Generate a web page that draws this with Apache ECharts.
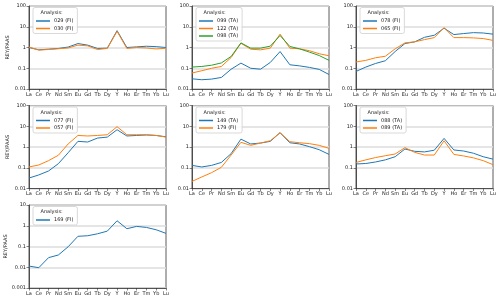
<!DOCTYPE html>
<html><head><meta charset="utf-8">
<script src="https://cdn.jsdelivr.net/npm/echarts@6/dist/echarts.min.js"></script>
<style>html,body{margin:0;padding:0;background:#fff}#c{width:500px;height:301px}</style>
</head><body><div id="c"></div>
<script>
const categories = ['La','Ce','Pr','Nd','Sm','Eu','Gd','Tb','Dy','Y','Ho','Er','Tm','Yb','Lu'];
const yTicksA = [0.01, 0.1, 1, 10, 100];
const yTicksB = [0.001, 0.01, 0.1, 1, 10];
const legendTitle = 'Analysis:';
const yName = 'REY/PAAS';

const s029 = [1.0, 0.77, 0.83, 0.9, 1.05, 1.55, 1.3, 0.9, 0.93, 6.5, 1.0, 1.07, 1.15, 1.1, 1.0];
const s030 = [1.05, 0.75, 0.8, 0.87, 0.95, 1.3, 1.2, 0.8, 0.9, 6.0, 0.9, 1.0, 0.95, 0.85, 0.92];
const s099 = [0.031, 0.028, 0.030, 0.036, 0.09, 0.177, 0.1, 0.09, 0.19, 0.64, 0.147, 0.13, 0.11, 0.088, 0.05];
const s122 = [0.059, 0.076, 0.1, 0.122, 0.33, 1.6, 0.83, 0.77, 0.93, 4.4, 0.93, 0.86, 0.7, 0.5, 0.4];
const s098 = [0.114, 0.122, 0.14, 0.18, 0.37, 1.67, 0.93, 0.93, 1.16, 3.8, 1.12, 0.86, 0.6, 0.41, 0.24];
const s078 = [0.07, 0.114, 0.17, 0.23, 0.64, 1.55, 1.87, 3.1, 3.9, 8.5, 4.2, 4.7, 5.2, 5.0, 4.4];
const s065 = [0.2, 0.24, 0.32, 0.38, 0.86, 1.67, 1.87, 2.4, 3.0, 9.1, 3.0, 3.0, 2.9, 2.7, 2.2];
const s077 = [0.032, 0.045, 0.07, 0.157, 0.53, 1.87, 1.74, 2.7, 3.0, 6.8, 3.4, 3.6, 3.8, 3.6, 3.1];
const s057 = [0.109, 0.136, 0.22, 0.4, 1.4, 3.6, 3.4, 3.6, 3.9, 9.5, 3.9, 3.9, 3.9, 3.6, 3.0];
const s149 = [0.13, 0.109, 0.13, 0.18, 0.48, 2.4, 1.4, 1.55, 1.87, 4.9, 1.6, 1.4, 1.04, 0.74, 0.44];
const s179 = [0.022, 0.036, 0.058, 0.105, 0.41, 1.68, 1.2, 1.55, 2.0, 4.9, 1.8, 1.6, 1.45, 1.2, 0.86];
const s088 = [0.152, 0.16, 0.19, 0.24, 0.34, 0.8, 0.62, 0.58, 0.7, 2.6, 0.72, 0.64, 0.5, 0.34, 0.26];
const s089 = [0.18, 0.24, 0.31, 0.38, 0.46, 0.93, 0.55, 0.41, 0.41, 2.0, 0.44, 0.37, 0.3, 0.22, 0.14];
const s169 = [0.0114, 0.0095, 0.029, 0.039, 0.097, 0.31, 0.33, 0.41, 0.55, 1.74, 0.72, 0.93, 0.83, 0.64, 0.43];

const panels = [
  {ticks: yTicksA, series: [['029 (FI)', s029], ['030 (FI)', s030]]},
  {ticks: yTicksA, series: [['099 (TA)', s099], ['122 (TA)', s122], ['098 (TA)', s098]]},
  {ticks: yTicksA, series: [['078 (FI)', s078], ['065 (FI)', s065]]},
  {ticks: yTicksA, series: [['077 (FI)', s077], ['057 (FI)', s057]]},
  {ticks: yTicksA, series: [['149 (TA)', s149], ['179 (FI)', s179]]},
  {ticks: yTicksA, series: [['088 (TA)', s088], ['089 (TA)', s089]]},
  {ticks: yTicksB, series: [['169 (FI)', s169]]}
];

const colors = ['#1f77b4', '#ff7f0e', '#2ca02c'];
const lefts = [29, 192, 356], tops = [6, 105.5, 205];
const W = 137, H = 83;
const FS = 5.0;
const FONT = 'DejaVu Sans';

const grid = [], xAxis = [], yAxis = [], series = [], legend = [], title = [];
panels.forEach((p, i) => {
  const gl = lefts[i % 3], gt = tops[Math.floor(i / 3)];
  grid.push({left: gl, top: gt, width: W, height: H, show: true, borderColor: '#333', borderWidth: 0.8, backgroundColor: 'transparent'});
  xAxis.push({
    type: 'category', gridIndex: i, data: categories, boundaryGap: false,
    axisLine: {show: true, lineStyle: {color: '#333', width: 0.8}},
    axisTick: {show: true, length: 2.5, alignWithLabel: true, interval: 0, lineStyle: {color: '#333', width: 0.6}},
    axisLabel: {interval: 0, fontSize: FS, fontFamily: FONT, color: '#222', margin: 3},
    splitLine: {show: false}
  });
  yAxis.push({
    type: 'log', logBase: 10, gridIndex: i, min: p.ticks[0], max: p.ticks[p.ticks.length - 1],
    name: (i % 3 === 0) ? yName : '', nameLocation: 'middle', nameGap: 19, nameRotate: 90,
    nameTextStyle: {fontSize: FS, fontFamily: FONT, color: '#222'},
    axisLine: {show: true, lineStyle: {color: '#333', width: 0.8}},
    axisTick: {show: true, length: 2.5, lineStyle: {color: '#333', width: 0.6}},
    axisLabel: {fontSize: FS, fontFamily: FONT, color: '#222', margin: 3,
      formatter: v => String(+Number(v).toPrecision(2))},
    splitLine: {show: true, lineStyle: {color: '#dcdcdc', width: 1.5}}
  });
  const names = [];
  p.series.forEach((s, k) => {
    names.push(s[0]);
    series.push({
      type: 'line', name: s[0], data: s[1], xAxisIndex: i, yAxisIndex: i,
      showSymbol: false, symbol: 'none', animation: false, silent: true,
      lineStyle: {color: colors[k], width: 1}, itemStyle: {color: colors[k]}, z: 3
    });
  });
  legend.push({
    data: names, orient: 'vertical', left: gl + 4, top: gt + 1.5,
    padding: [11, 4, 2.5, 3], itemGap: 2.5, itemWidth: 14, itemHeight: 1.5, icon: 'rect',
    borderColor: '#cfcfcf', borderWidth: 0.8, borderRadius: 2, backgroundColor: 'rgba(255,255,255,0.85)',
    textStyle: {fontSize: FS, fontFamily: FONT, color: '#222', padding: [0, 0, 0, -1]},
    selectedMode: false, z: 10
  });
  title.push({
    text: legendTitle, left: gl + 11.5, top: gt + 4.5, padding: 0,
    textStyle: {fontSize: FS, fontFamily: FONT, color: '#222', fontWeight: 'normal'}, z: 11
  });
});

const chart = echarts.init(document.getElementById('c'), null, {renderer: 'canvas'});
chart.setOption({animation: false, grid, xAxis, yAxis, series, legend, title});
</script></body></html>
